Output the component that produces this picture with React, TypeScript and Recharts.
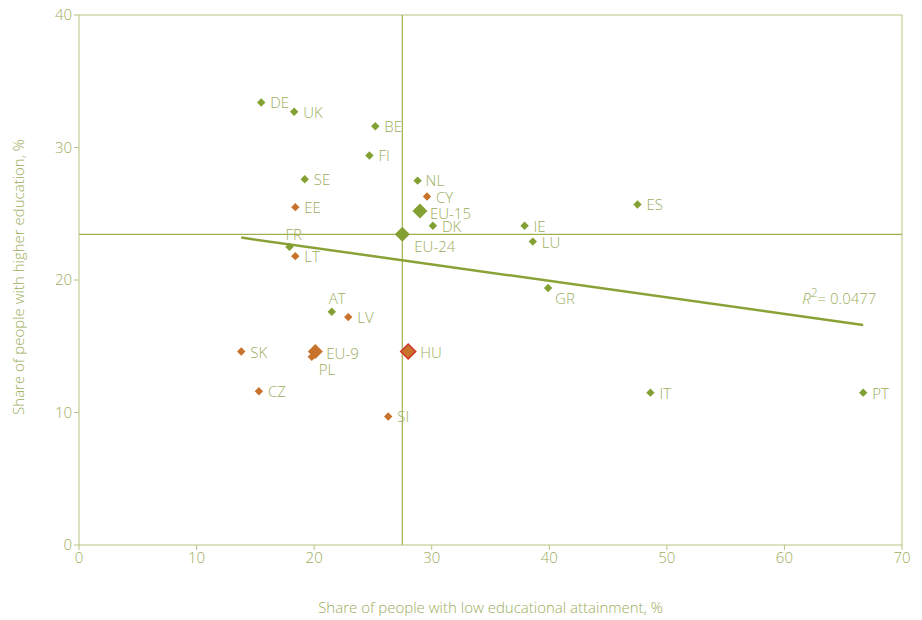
import {
  ReferenceLine,
  Scatter,
  ScatterChart,
  XAxis,
  YAxis,
} from "recharts";

// EU-15 member states
const oldCodes = ["DE", "UK", "BE", "FI", "SE", "NL", "DK", "ES", "IE", "LU", "FR", "GR", "AT", "IT", "PT"];
const oldLow = [15.5, 18.3, 25.2, 24.7, 19.2, 28.8, 30.1, 47.5, 37.9, 38.6, 17.9, 39.9, 21.5, 48.6, 66.7];
const oldHigh = [33.4, 32.7, 31.6, 29.4, 27.6, 27.5, 24.1, 25.7, 24.1, 22.9, 22.5, 19.4, 17.6, 11.5, 11.5];

// new member states
const newCodes = ["CY", "EE", "LT", "LV", "SK", "PL", "CZ", "SI", "HU"];
const newLow = [29.6, 18.4, 18.4, 22.9, 13.8, 19.8, 15.3, 26.3, 28.0];
const newHigh = [26.3, 25.5, 21.8, 17.2, 14.6, 14.2, 11.6, 9.7, 14.6];

// aggregates
const aggCodes = ["EU-15", "EU-24", "EU-9"];
const aggLow = [29.0, 27.5, 20.1];
const aggHigh = [25.2, 23.45, 14.6];

// linear trend
const trendLow = [13.8, 66.7];
const trendHigh = [23.2, 16.6];
const r2 = "0.0477";

const xTicks = [0, 10, 20, 30, 40, 50, 60, 70];
const yTicks = [0, 10, 20, 30, 40];

const GREEN = "#83a032";
const ORANGE = "#c9722b";
const TEXT = "#9cad5c";
const AXIS = "#b7c47f";
const FONT = "'Open Sans', sans-serif";
const WEIGHT = 300;
const SIZE = 15;

const highlighted = ["HU"];
const big = ["EU-15", "EU-24", "EU-9", "HU"];

// label offset from point centre: [dx, dy]
const labelPos: Record<string, [number, number]> = {
  FR: [-4, -13],
  GR: [7, 10],
  "EU-24": [12, 12],
  AT: [-3, -14],
  PL: [7, 12],
  NL: [8, -1],
  CY: [9, 0],
  "EU-15": [10, 2],
  "EU-9": [11, 1],
  HU: [12, 0],
};

const toPoints = (codes: string[], xs: number[], ys: number[]) =>
  codes.map((code, i) => ({ code, low: xs[i], high: ys[i] }));

const oldData = toPoints(oldCodes, oldLow, oldHigh);
const newData = toPoints(newCodes, newLow, newHigh);
const aggData = toPoints(aggCodes, aggLow, aggHigh);
const trendData = trendLow.map((x, i) => ({ low: x, high: trendHigh[i], last: i === trendLow.length - 1 }));

const eu24 = aggData[1];

function makeShape(color: string) {
  return (props: any) => {
    const { cx, cy, payload } = props;
    const code: string = payload.code;
    const r = big.includes(code) ? 7.5 : 4.2;
    const [dx, dy] = labelPos[code] ?? [9, 0];
    return (
      <g>
        <path
          d={`M${cx},${cy - r}L${cx + r},${cy}L${cx},${cy + r}L${cx - r},${cy}Z`}
          fill={color}
          stroke={highlighted.includes(code) ? "#d1352b" : "none"}
          strokeWidth={1.5}
        />
        <text
          x={cx + dx}
          y={cy + dy}
          dominantBaseline="central"
          fill={TEXT}
          fontSize={SIZE}
          fontWeight={WEIGHT}
          fontFamily={FONT}
        >
          {code}
        </text>
      </g>
    );
  };
}

function trendShape(props: any) {
  const { cx, cy, payload } = props;
  if (!payload.last) return <g />;
  return (
    <text
      x={cx - 61}
      y={cy - 27}
      dominantBaseline="central"
      fill={TEXT}
      fontSize={SIZE}
      fontWeight={WEIGHT}
      fontFamily={FONT}
    >
      <tspan fontStyle="italic">R</tspan>
      <tspan dy={-6} fontSize={12}>2</tspan>
      <tspan dy={6}>= {r2}</tspan>
    </text>
  );
}

const tickStyle = { fill: TEXT, fontSize: SIZE, fontFamily: FONT, fontWeight: WEIGHT };

export default function App() {
  return (
    <div style={{ position: "absolute", left: 0, top: 0, width: 922, height: 620, background: "#fff" }}>
      <ScatterChart width={922} height={620} margin={{ top: 15, right: 20, bottom: 35, left: 9 }}>
        <XAxis
          type="number"
          dataKey="low"
          domain={[0, 70]}
          ticks={xTicks}
          interval={0}
          stroke={AXIS}
          tickSize={5}
          tick={tickStyle}
          height={40}
          label={{
            content: (p: any) => (
              <text
                x={p.viewBox.x + p.viewBox.width / 2}
                y={607}
                textAnchor="middle"
                dominantBaseline="central"
                fill={TEXT}
                fontSize={SIZE}
                fontWeight={WEIGHT}
                fontFamily={FONT}
              >
                Share of people with low educational attainment, %
              </text>
            ),
          }}
        />
        <YAxis
          type="number"
          dataKey="high"
          domain={[0, 40]}
          ticks={yTicks}
          interval={0}
          stroke={AXIS}
          tickSize={5}
          tick={tickStyle}
          width={70}
          label={{
            content: (p: any) => {
              const cy = p.viewBox.y + p.viewBox.height / 2 - 3;
              return (
                <text
                  x={18}
                  y={cy}
                  transform={`rotate(-90 18 ${cy})`}
                  textAnchor="middle"
                  dominantBaseline="central"
                  fill={TEXT}
                  fontSize={SIZE}
                  fontWeight={WEIGHT}
                  fontFamily={FONT}
                >
                  Share of people with higher education, %
                </text>
              );
            },
          }}
        />
        <ReferenceLine y={40} stroke={AXIS} strokeWidth={1} />
        <ReferenceLine x={70} stroke={AXIS} strokeWidth={1} />
        <ReferenceLine y={eu24.high} stroke="#9fb152" strokeWidth={1.2} />
        <ReferenceLine x={eu24.low} stroke="#9fb152" strokeWidth={1.2} />
        <Scatter
          data={trendData}
          line={{ stroke: "#8aa136", strokeWidth: 2.5 }}
          shape={trendShape}
          isAnimationActive={false}
        />
        <Scatter data={oldData} shape={makeShape(GREEN)} isAnimationActive={false} />
        <Scatter data={newData} shape={makeShape(ORANGE)} isAnimationActive={false} />
        <Scatter
          data={aggData}
          shape={(p: any) => makeShape(p.payload.code === "EU-9" ? ORANGE : GREEN)(p)}
          isAnimationActive={false}
        />
      </ScatterChart>
    </div>
  );
}
